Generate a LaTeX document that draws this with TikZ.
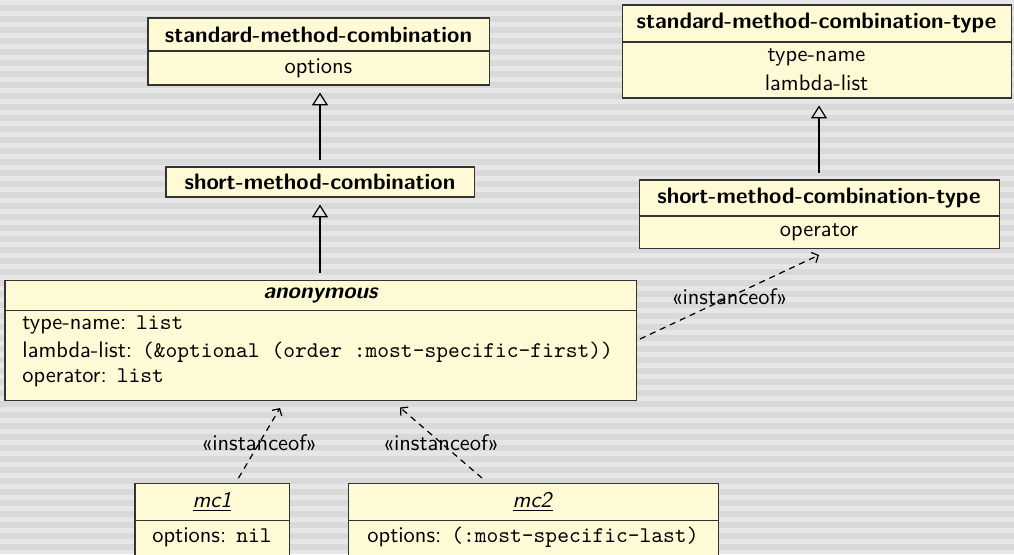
\documentclass[tikz,border=0pt]{standalone}
\usetikzlibrary{arrows.meta,fit}
\definecolor{bglight}{HTML}{E6E6E6}
\definecolor{bgdark}{HTML}{D9D9D9}
\definecolor{classfill}{HTML}{FFFAD6}
\definecolor{classline}{HTML}{333333}
\tikzset{
  umlbox/.style={draw=classline, fill=classfill, line width=0.45pt, inner sep=0pt},
  sep/.style={draw=classline, line width=0.45pt},
  txt/.style={inner sep=0pt, font=\sffamily},
  hdr/.style={inner sep=0pt, font=\sffamily\bfseries},
  gen/.style={draw=black, line width=0.55pt, -{Triangle[open,length=5.8pt,width=7.2pt]},
              shorten <=3.1pt, shorten >=3.1pt},
  inst/.style={draw=black, line width=0.55pt, dash pattern=on 2.7pt off 2.2pt,
               -{Straight Barb[length=2.3pt,width=5pt]}},
  stereo/.style={inner sep=0pt, font=\sffamily}
}
\begin{document}
\begin{tikzpicture}[x=0.446pt,y=-0.446pt]
\useasboundingbox (0,0) rectangle (1014,554);
% striped backdrop
\fill[bglight] (0,0) rectangle (1014,554);
\foreach \k in {0,...,50}
  \fill[bgdark] (0,{5+11*\k}) rectangle (1014,{11+11*\k});

% standard-method-combination
\node[umlbox, fit={(148,18) (489,85)}] (smc) {};
\draw[sep] (148,51) -- (489,51);
\node[hdr] (smc-name) at (318.5,34.5) {standard-method-combination};
\node[txt] (smc-opt) at (318.5,68) {options};

% short-method-combination
\node[umlbox, fit={(166,167) (474,197)}] (shmc) {};
\node[hdr] (shmc-name) at (320,182) {short-method-combination};

% standard-method-combination-type
\node[umlbox, fit={(622,5) (1011,98)}] (smct) {};
\draw[sep] (622,42) -- (1011,42);
\node[hdr] (smct-name) at (816.5,23.5) {standard-method-combination-type};
\node[txt] (smct-a) at (816.5,57) {type-name};
\node[txt] (smct-b) at (816.5,83) {lambda-list};

% short-method-combination-type
\node[umlbox, fit={(639,180) (999,248)}] (shmct) {};
\draw[sep] (639,216) -- (999,216);
\node[hdr] (shmct-name) at (819,198) {short-method-combination-type};
\node[txt] (shmct-op) at (819,232) {operator};

% anonymous
\node[umlbox, fit={(5,280) (636,400)}] (anon) {};
\draw[sep] (5,310) -- (636,310);
\node[hdr, font=\sffamily\bfseries\itshape] (anon-name) at (320.5,295) {anonymous};
\node[txt, anchor=west] (anon-a) at (22,325) {type-name: \texttt{list}};
\node[txt, anchor=west] (anon-b) at (22,352) {lambda-list: \texttt{(\&optional (order :most-specific-first))}};
\node[txt, anchor=west] (anon-c) at (22,378) {operator: \texttt{list}};

% mc1
\node[umlbox, fit={(135,483) (289,570)}] (mc1) {};
\draw[sep] (135,520) -- (289,520);
\node[txt] (mc1-name) at (212,502) {\underline{\textit{mc1}}};
\node[txt] (mc1-opt) at (212,537) {options: \texttt{nil}};

% mc2
\node[umlbox, fit={(348,483) (718,570)}] (mc2) {};
\draw[sep] (348,520) -- (718,520);
\node[txt] (mc2-name) at (533,502) {\underline{\textit{mc2}}};
\node[txt] (mc2-opt) at (533,537) {options: \texttt{(:most-specific-last)}};

% generalisations
\draw[gen] (shmc.north) -- (shmc.north |- smc.south);
\draw[gen] (anon.north -| shmc.north) -- (shmc.south);
\draw[gen] (shmct.north) -- (shmct.north |- smct.south);

% instance-of dependencies
\coordinate (anon-out) at (640,339);
\coordinate (shmct-in) at (819,255);
\coordinate (mc1-out) at (238.5,478);
\coordinate (anon-in1) at (280,408);
\coordinate (mc2-out) at (482,478);
\coordinate (anon-in2) at (400,407.5);
\draw[inst] (anon-out) -- (shmct-in) node[stereo, midway] (lbl-r) {«instanceof»};
\draw[inst] (mc1-out) -- (anon-in1) node[stereo, midway] (lbl-1) {«instanceof»};
\draw[inst] (mc2-out) -- (anon-in2) node[stereo, midway] (lbl-2) {«instanceof»};
\end{tikzpicture}
\end{document}
